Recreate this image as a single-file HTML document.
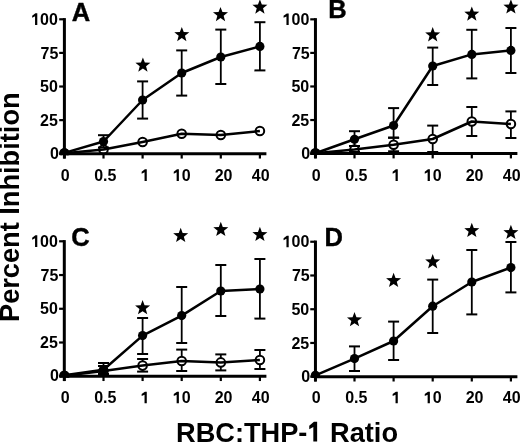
<!DOCTYPE html>
<html><head><meta charset="utf-8"><style>
html,body{margin:0;padding:0;background:#fff;}
svg{display:block;will-change:transform;}
</style></head><body>
<svg width="520" height="442" viewBox="0 0 520 442">
<rect width="520" height="442" fill="#fff"/>
<clipPath id="clipA"><rect x="0" y="0" width="520" height="155.15"/></clipPath>
<line x1="64.4" y1="18.1" x2="64.4" y2="158.55" stroke="#000" stroke-width="3"/>
<line x1="62.900000000000006" y1="153.75" x2="266.4" y2="153.75" stroke="#000" stroke-width="3"/>
<line x1="59.2" y1="19.30" x2="64.4" y2="19.30" stroke="#000" stroke-width="2.2"/>
<text x="31.21" y="24.90" style="font-family:'Liberation Sans',sans-serif;font-weight:bold;font-size:16px"> 00</text>
<polygon points="37.29,24.90 37.29,13.35 35.40,13.35 32.17,15.70 32.17,17.70 35.05,16.34 35.05,24.90"/>
<line x1="59.2" y1="52.91" x2="64.4" y2="52.91" stroke="#000" stroke-width="2.2"/>
<text x="40.51" y="58.51" style="font-family:'Liberation Sans',sans-serif;font-weight:bold;font-size:16px">75</text>
<line x1="59.2" y1="86.52" x2="64.4" y2="86.52" stroke="#000" stroke-width="2.2"/>
<text x="40.01" y="92.12" style="font-family:'Liberation Sans',sans-serif;font-weight:bold;font-size:16px">50</text>
<line x1="59.2" y1="120.14" x2="64.4" y2="120.14" stroke="#000" stroke-width="2.2"/>
<text x="40.01" y="125.74" style="font-family:'Liberation Sans',sans-serif;font-weight:bold;font-size:16px">25</text>
<line x1="59.2" y1="153.75" x2="64.4" y2="153.75" stroke="#000" stroke-width="2.2"/>
<text x="49.90" y="158.65" style="font-family:'Liberation Sans',sans-serif;font-weight:bold;font-size:16px">0</text>
<line x1="64.40" y1="153.75" x2="64.40" y2="158.55" stroke="#000" stroke-width="2.2"/>
<text x="60.80" y="180.90" style="font-family:'Liberation Sans',sans-serif;font-weight:bold;font-size:16px">0</text>
<line x1="103.50" y1="153.75" x2="103.50" y2="158.55" stroke="#000" stroke-width="2.2"/>
<text x="94.23" y="180.90" style="font-family:'Liberation Sans',sans-serif;font-weight:bold;font-size:16px">0.5</text>
<line x1="142.60" y1="153.75" x2="142.60" y2="158.55" stroke="#000" stroke-width="2.2"/>
<polygon points="146.78,180.90 146.78,169.35 144.89,169.35 141.66,171.70 141.66,173.70 144.54,172.34 144.54,180.90"/>
<line x1="181.70" y1="153.75" x2="181.70" y2="158.55" stroke="#000" stroke-width="2.2"/>
<text x="172.80" y="180.90" style="font-family:'Liberation Sans',sans-serif;font-weight:bold;font-size:16px"> 0</text>
<polygon points="178.88,180.90 178.88,169.35 177.00,169.35 173.76,171.70 173.76,173.70 176.64,172.34 176.64,180.90"/>
<line x1="220.80" y1="153.75" x2="220.80" y2="158.55" stroke="#000" stroke-width="2.2"/>
<text x="214.70" y="180.90" style="font-family:'Liberation Sans',sans-serif;font-weight:bold;font-size:16px">20</text>
<line x1="259.90" y1="153.75" x2="259.90" y2="158.55" stroke="#000" stroke-width="2.2"/>
<text x="251.85" y="180.90" style="font-family:'Liberation Sans',sans-serif;font-weight:bold;font-size:16px">40</text>
<text x="71.8" y="21.1" style="font-family:'Liberation Sans',sans-serif;font-weight:bold;font-size:25.5px" stroke="#000" stroke-width="0.4">A</text>
<polyline points="64.40,153.2 103.50,149.5 142.60,142 181.70,133.8 220.80,135 259.90,131" fill="none" stroke="#000" stroke-width="2.5" stroke-linejoin="round"/>
<circle cx="64.40" cy="153.2" r="4.3" fill="none" stroke="#000" stroke-width="2" clip-path="url(#clipA)"/>
<circle cx="103.50" cy="149.5" r="4.3" fill="none" stroke="#000" stroke-width="2" clip-path="url(#clipA)"/>
<circle cx="142.60" cy="142" r="4.3" fill="none" stroke="#000" stroke-width="2" clip-path="url(#clipA)"/>
<circle cx="181.70" cy="133.8" r="4.3" fill="none" stroke="#000" stroke-width="2" clip-path="url(#clipA)"/>
<circle cx="220.80" cy="135" r="4.3" fill="none" stroke="#000" stroke-width="2" clip-path="url(#clipA)"/>
<circle cx="259.90" cy="131" r="4.3" fill="none" stroke="#000" stroke-width="2" clip-path="url(#clipA)"/>
<polyline points="64.40,152.9 103.50,141.5 142.60,100 181.70,73 220.80,57 259.90,46.4" fill="none" stroke="#000" stroke-width="2.5" stroke-linejoin="round"/>
<line x1="103.50" y1="135.2" x2="103.50" y2="147.5" stroke="#000" stroke-width="1.8"/>
<line x1="98.00" y1="135.2" x2="109.00" y2="135.2" stroke="#000" stroke-width="2"/>
<line x1="98.00" y1="147.5" x2="109.00" y2="147.5" stroke="#000" stroke-width="2"/>
<line x1="142.60" y1="81.4" x2="142.60" y2="118.6" stroke="#000" stroke-width="1.8"/>
<line x1="137.10" y1="81.4" x2="148.10" y2="81.4" stroke="#000" stroke-width="2"/>
<line x1="137.10" y1="118.6" x2="148.10" y2="118.6" stroke="#000" stroke-width="2"/>
<line x1="181.70" y1="50.4" x2="181.70" y2="95.6" stroke="#000" stroke-width="1.8"/>
<line x1="176.20" y1="50.4" x2="187.20" y2="50.4" stroke="#000" stroke-width="2"/>
<line x1="176.20" y1="95.6" x2="187.20" y2="95.6" stroke="#000" stroke-width="2"/>
<line x1="220.80" y1="29.6" x2="220.80" y2="84" stroke="#000" stroke-width="1.8"/>
<line x1="215.30" y1="29.6" x2="226.30" y2="29.6" stroke="#000" stroke-width="2"/>
<line x1="215.30" y1="84" x2="226.30" y2="84" stroke="#000" stroke-width="2"/>
<line x1="259.90" y1="22.2" x2="259.90" y2="70.4" stroke="#000" stroke-width="1.8"/>
<line x1="254.40" y1="22.2" x2="265.40" y2="22.2" stroke="#000" stroke-width="2"/>
<line x1="254.40" y1="70.4" x2="265.40" y2="70.4" stroke="#000" stroke-width="2"/>
<circle cx="64.40" cy="152.9" r="4.6" fill="#000" clip-path="url(#clipA)"/>
<circle cx="103.50" cy="141.5" r="4.6" fill="#000" clip-path="url(#clipA)"/>
<circle cx="142.60" cy="100" r="4.6" fill="#000" clip-path="url(#clipA)"/>
<circle cx="181.70" cy="73" r="4.6" fill="#000" clip-path="url(#clipA)"/>
<circle cx="220.80" cy="57" r="4.6" fill="#000" clip-path="url(#clipA)"/>
<circle cx="259.90" cy="46.4" r="4.6" fill="#000" clip-path="url(#clipA)"/>
<polygon points="142.90,57.40 144.85,62.62 150.41,62.86 146.06,66.33 147.54,71.69 142.90,68.62 138.26,71.69 139.74,66.33 135.39,62.86 140.95,62.62"/>
<polygon points="181.80,26.90 183.75,32.12 189.31,32.36 184.96,35.83 186.44,41.19 181.80,38.12 177.16,41.19 178.64,35.83 174.29,32.36 179.85,32.12"/>
<polygon points="220.50,6.90 222.45,12.12 228.01,12.36 223.66,15.83 225.14,21.19 220.50,18.12 215.86,21.19 217.34,15.83 212.99,12.36 218.55,12.12"/>
<polygon points="259.90,-0.60 261.85,4.62 267.41,4.86 263.06,8.33 264.54,13.69 259.90,10.62 255.26,13.69 256.74,8.33 252.39,4.86 257.95,4.62"/>
<clipPath id="clipB"><rect x="0" y="0" width="520" height="155.0"/></clipPath>
<line x1="315.45" y1="18.150000000000002" x2="315.45" y2="158.4" stroke="#000" stroke-width="3"/>
<line x1="313.95" y1="153.6" x2="517.4" y2="153.6" stroke="#000" stroke-width="3"/>
<line x1="310.25" y1="19.35" x2="315.45" y2="19.35" stroke="#000" stroke-width="2.2"/>
<text x="282.61" y="24.95" style="font-family:'Liberation Sans',sans-serif;font-weight:bold;font-size:16px"> 00</text>
<polygon points="288.69,24.95 288.69,13.40 286.80,13.40 283.57,15.75 283.57,17.75 286.45,16.39 286.45,24.95"/>
<line x1="310.25" y1="52.91" x2="315.45" y2="52.91" stroke="#000" stroke-width="2.2"/>
<text x="291.91" y="58.51" style="font-family:'Liberation Sans',sans-serif;font-weight:bold;font-size:16px">75</text>
<line x1="310.25" y1="86.47" x2="315.45" y2="86.47" stroke="#000" stroke-width="2.2"/>
<text x="291.41" y="92.07" style="font-family:'Liberation Sans',sans-serif;font-weight:bold;font-size:16px">50</text>
<line x1="310.25" y1="120.04" x2="315.45" y2="120.04" stroke="#000" stroke-width="2.2"/>
<text x="291.41" y="125.64" style="font-family:'Liberation Sans',sans-serif;font-weight:bold;font-size:16px">25</text>
<line x1="310.25" y1="153.60" x2="315.45" y2="153.60" stroke="#000" stroke-width="2.2"/>
<text x="301.30" y="158.50" style="font-family:'Liberation Sans',sans-serif;font-weight:bold;font-size:16px">0</text>
<line x1="315.40" y1="153.6" x2="315.40" y2="158.4" stroke="#000" stroke-width="2.2"/>
<text x="311.80" y="180.90" style="font-family:'Liberation Sans',sans-serif;font-weight:bold;font-size:16px">0</text>
<line x1="354.50" y1="153.6" x2="354.50" y2="158.4" stroke="#000" stroke-width="2.2"/>
<text x="345.23" y="180.90" style="font-family:'Liberation Sans',sans-serif;font-weight:bold;font-size:16px">0.5</text>
<line x1="393.60" y1="153.6" x2="393.60" y2="158.4" stroke="#000" stroke-width="2.2"/>
<polygon points="397.78,180.90 397.78,169.35 395.89,169.35 392.66,171.70 392.66,173.70 395.54,172.34 395.54,180.90"/>
<line x1="432.70" y1="153.6" x2="432.70" y2="158.4" stroke="#000" stroke-width="2.2"/>
<text x="423.80" y="180.90" style="font-family:'Liberation Sans',sans-serif;font-weight:bold;font-size:16px"> 0</text>
<polygon points="429.88,180.90 429.88,169.35 428.00,169.35 424.76,171.70 424.76,173.70 427.64,172.34 427.64,180.90"/>
<line x1="471.80" y1="153.6" x2="471.80" y2="158.4" stroke="#000" stroke-width="2.2"/>
<text x="465.70" y="180.90" style="font-family:'Liberation Sans',sans-serif;font-weight:bold;font-size:16px">20</text>
<line x1="510.90" y1="153.6" x2="510.90" y2="158.4" stroke="#000" stroke-width="2.2"/>
<text x="502.85" y="180.90" style="font-family:'Liberation Sans',sans-serif;font-weight:bold;font-size:16px">40</text>
<text x="328.3" y="18.2" style="font-family:'Liberation Sans',sans-serif;font-weight:bold;font-size:25.5px" stroke="#000" stroke-width="0.4">B</text>
<polyline points="315.40,153.2 354.50,149.5 393.60,144.8 432.70,139 471.80,121.5 510.90,124" fill="none" stroke="#000" stroke-width="2.5" stroke-linejoin="round"/>
<line x1="349.00" y1="146" x2="360.00" y2="146" stroke="#000" stroke-width="2"/>
<line x1="349.00" y1="152" x2="360.00" y2="152" stroke="#000" stroke-width="2"/>
<line x1="393.60" y1="137.7" x2="393.60" y2="140.80" stroke="#000" stroke-width="1.8"/>
<line x1="393.60" y1="148.80" x2="393.60" y2="151.3" stroke="#000" stroke-width="1.8"/>
<line x1="388.10" y1="137.7" x2="399.10" y2="137.7" stroke="#000" stroke-width="2"/>
<line x1="388.10" y1="151.3" x2="399.10" y2="151.3" stroke="#000" stroke-width="2"/>
<line x1="432.70" y1="125.6" x2="432.70" y2="135.00" stroke="#000" stroke-width="1.8"/>
<line x1="432.70" y1="143.00" x2="432.70" y2="152" stroke="#000" stroke-width="1.8"/>
<line x1="427.20" y1="125.6" x2="438.20" y2="125.6" stroke="#000" stroke-width="2"/>
<line x1="427.20" y1="152" x2="438.20" y2="152" stroke="#000" stroke-width="2"/>
<line x1="471.80" y1="107" x2="471.80" y2="117.50" stroke="#000" stroke-width="1.8"/>
<line x1="471.80" y1="125.50" x2="471.80" y2="136" stroke="#000" stroke-width="1.8"/>
<line x1="466.30" y1="107" x2="477.30" y2="107" stroke="#000" stroke-width="2"/>
<line x1="466.30" y1="136" x2="477.30" y2="136" stroke="#000" stroke-width="2"/>
<line x1="510.90" y1="111.4" x2="510.90" y2="120.00" stroke="#000" stroke-width="1.8"/>
<line x1="510.90" y1="128.00" x2="510.90" y2="138" stroke="#000" stroke-width="1.8"/>
<line x1="505.40" y1="111.4" x2="516.40" y2="111.4" stroke="#000" stroke-width="2"/>
<line x1="505.40" y1="138" x2="516.40" y2="138" stroke="#000" stroke-width="2"/>
<circle cx="315.40" cy="153.2" r="4.3" fill="none" stroke="#000" stroke-width="2" clip-path="url(#clipB)"/>
<circle cx="354.50" cy="149.5" r="4.3" fill="none" stroke="#000" stroke-width="2" clip-path="url(#clipB)"/>
<circle cx="393.60" cy="144.8" r="4.3" fill="none" stroke="#000" stroke-width="2" clip-path="url(#clipB)"/>
<circle cx="432.70" cy="139" r="4.3" fill="none" stroke="#000" stroke-width="2" clip-path="url(#clipB)"/>
<circle cx="471.80" cy="121.5" r="4.3" fill="none" stroke="#000" stroke-width="2" clip-path="url(#clipB)"/>
<circle cx="510.90" cy="124" r="4.3" fill="none" stroke="#000" stroke-width="2" clip-path="url(#clipB)"/>
<polyline points="315.40,153.2 354.50,139.3 393.60,125.5 432.70,66 471.80,54.4 510.90,50.4" fill="none" stroke="#000" stroke-width="2.5" stroke-linejoin="round"/>
<line x1="354.50" y1="131.2" x2="354.50" y2="146" stroke="#000" stroke-width="1.8"/>
<line x1="349.00" y1="131.2" x2="360.00" y2="131.2" stroke="#000" stroke-width="2"/>
<line x1="349.00" y1="146" x2="360.00" y2="146" stroke="#000" stroke-width="2"/>
<line x1="393.60" y1="108.1" x2="393.60" y2="137.7" stroke="#000" stroke-width="1.8"/>
<line x1="388.10" y1="108.1" x2="399.10" y2="108.1" stroke="#000" stroke-width="2"/>
<line x1="388.10" y1="137.7" x2="399.10" y2="137.7" stroke="#000" stroke-width="2"/>
<line x1="432.70" y1="47.6" x2="432.70" y2="85" stroke="#000" stroke-width="1.8"/>
<line x1="427.20" y1="47.6" x2="438.20" y2="47.6" stroke="#000" stroke-width="2"/>
<line x1="427.20" y1="85" x2="438.20" y2="85" stroke="#000" stroke-width="2"/>
<line x1="471.80" y1="29.8" x2="471.80" y2="78.4" stroke="#000" stroke-width="1.8"/>
<line x1="466.30" y1="29.8" x2="477.30" y2="29.8" stroke="#000" stroke-width="2"/>
<line x1="466.30" y1="78.4" x2="477.30" y2="78.4" stroke="#000" stroke-width="2"/>
<line x1="510.90" y1="28" x2="510.90" y2="73" stroke="#000" stroke-width="1.8"/>
<line x1="505.40" y1="28" x2="516.40" y2="28" stroke="#000" stroke-width="2"/>
<line x1="505.40" y1="73" x2="516.40" y2="73" stroke="#000" stroke-width="2"/>
<circle cx="315.40" cy="153.2" r="4.6" fill="#000" clip-path="url(#clipB)"/>
<circle cx="354.50" cy="139.3" r="4.6" fill="#000" clip-path="url(#clipB)"/>
<circle cx="393.60" cy="125.5" r="4.6" fill="#000" clip-path="url(#clipB)"/>
<circle cx="432.70" cy="66" r="4.6" fill="#000" clip-path="url(#clipB)"/>
<circle cx="471.80" cy="54.4" r="4.6" fill="#000" clip-path="url(#clipB)"/>
<circle cx="510.90" cy="50.4" r="4.6" fill="#000" clip-path="url(#clipB)"/>
<polygon points="432.70,27.10 434.65,32.32 440.21,32.56 435.86,36.03 437.34,41.39 432.70,38.32 428.06,41.39 429.54,36.03 425.19,32.56 430.75,32.32"/>
<polygon points="471.80,6.40 473.75,11.62 479.31,11.86 474.96,15.33 476.44,20.69 471.80,17.62 467.16,20.69 468.64,15.33 464.29,11.86 469.85,11.62"/>
<polygon points="510.90,-0.70 512.85,4.52 518.41,4.76 514.06,8.23 515.54,13.59 510.90,10.52 506.26,13.59 507.74,8.23 503.39,4.76 508.95,4.52"/>
<clipPath id="clipC"><rect x="0" y="0" width="520" height="377.65"/></clipPath>
<line x1="64.3" y1="240.10000000000002" x2="64.3" y2="381.05" stroke="#000" stroke-width="3"/>
<line x1="62.8" y1="376.25" x2="266.4" y2="376.25" stroke="#000" stroke-width="3"/>
<line x1="59.099999999999994" y1="241.30" x2="64.3" y2="241.30" stroke="#000" stroke-width="2.2"/>
<text x="31.21" y="246.90" style="font-family:'Liberation Sans',sans-serif;font-weight:bold;font-size:16px"> 00</text>
<polygon points="37.29,246.90 37.29,235.35 35.40,235.35 32.17,237.70 32.17,239.70 35.05,238.34 35.05,246.90"/>
<line x1="59.099999999999994" y1="275.04" x2="64.3" y2="275.04" stroke="#000" stroke-width="2.2"/>
<text x="40.51" y="280.64" style="font-family:'Liberation Sans',sans-serif;font-weight:bold;font-size:16px">75</text>
<line x1="59.099999999999994" y1="308.77" x2="64.3" y2="308.77" stroke="#000" stroke-width="2.2"/>
<text x="40.01" y="314.38" style="font-family:'Liberation Sans',sans-serif;font-weight:bold;font-size:16px">50</text>
<line x1="59.099999999999994" y1="342.51" x2="64.3" y2="342.51" stroke="#000" stroke-width="2.2"/>
<text x="40.01" y="348.11" style="font-family:'Liberation Sans',sans-serif;font-weight:bold;font-size:16px">25</text>
<line x1="59.099999999999994" y1="376.25" x2="64.3" y2="376.25" stroke="#000" stroke-width="2.2"/>
<text x="49.90" y="381.15" style="font-family:'Liberation Sans',sans-serif;font-weight:bold;font-size:16px">0</text>
<line x1="64.40" y1="376.25" x2="64.40" y2="381.05" stroke="#000" stroke-width="2.2"/>
<text x="60.80" y="403.20" style="font-family:'Liberation Sans',sans-serif;font-weight:bold;font-size:16px">0</text>
<line x1="103.50" y1="376.25" x2="103.50" y2="381.05" stroke="#000" stroke-width="2.2"/>
<text x="94.23" y="403.20" style="font-family:'Liberation Sans',sans-serif;font-weight:bold;font-size:16px">0.5</text>
<line x1="142.60" y1="376.25" x2="142.60" y2="381.05" stroke="#000" stroke-width="2.2"/>
<polygon points="146.78,403.20 146.78,391.65 144.89,391.65 141.66,394.00 141.66,396.00 144.54,394.64 144.54,403.20"/>
<line x1="181.70" y1="376.25" x2="181.70" y2="381.05" stroke="#000" stroke-width="2.2"/>
<text x="172.80" y="403.20" style="font-family:'Liberation Sans',sans-serif;font-weight:bold;font-size:16px"> 0</text>
<polygon points="178.88,403.20 178.88,391.65 177.00,391.65 173.76,394.00 173.76,396.00 176.64,394.64 176.64,403.20"/>
<line x1="220.80" y1="376.25" x2="220.80" y2="381.05" stroke="#000" stroke-width="2.2"/>
<text x="214.70" y="403.20" style="font-family:'Liberation Sans',sans-serif;font-weight:bold;font-size:16px">20</text>
<line x1="259.90" y1="376.25" x2="259.90" y2="381.05" stroke="#000" stroke-width="2.2"/>
<text x="251.85" y="403.20" style="font-family:'Liberation Sans',sans-serif;font-weight:bold;font-size:16px">40</text>
<text x="71.3" y="245.7" style="font-family:'Liberation Sans',sans-serif;font-weight:bold;font-size:25.5px" stroke="#000" stroke-width="0.4">C</text>
<polyline points="64.40,375.8 103.50,371 142.60,365.6 181.70,361 220.80,362.4 259.90,360" fill="none" stroke="#000" stroke-width="2.5" stroke-linejoin="round"/>
<line x1="103.50" y1="366" x2="103.50" y2="367.00" stroke="#000" stroke-width="1.8"/>
<line x1="103.50" y1="375.00" x2="103.50" y2="376" stroke="#000" stroke-width="1.8"/>
<line x1="98.00" y1="366" x2="109.00" y2="366" stroke="#000" stroke-width="2"/>
<line x1="98.00" y1="376" x2="109.00" y2="376" stroke="#000" stroke-width="2"/>
<line x1="142.60" y1="359" x2="142.60" y2="361.60" stroke="#000" stroke-width="1.8"/>
<line x1="142.60" y1="369.60" x2="142.60" y2="371.6" stroke="#000" stroke-width="1.8"/>
<line x1="137.10" y1="359" x2="148.10" y2="359" stroke="#000" stroke-width="2"/>
<line x1="137.10" y1="371.6" x2="148.10" y2="371.6" stroke="#000" stroke-width="2"/>
<line x1="181.70" y1="349.6" x2="181.70" y2="357.00" stroke="#000" stroke-width="1.8"/>
<line x1="181.70" y1="365.00" x2="181.70" y2="371" stroke="#000" stroke-width="1.8"/>
<line x1="176.20" y1="349.6" x2="187.20" y2="349.6" stroke="#000" stroke-width="2"/>
<line x1="176.20" y1="371" x2="187.20" y2="371" stroke="#000" stroke-width="2"/>
<line x1="220.80" y1="354.4" x2="220.80" y2="358.40" stroke="#000" stroke-width="1.8"/>
<line x1="220.80" y1="366.40" x2="220.80" y2="370.4" stroke="#000" stroke-width="1.8"/>
<line x1="215.30" y1="354.4" x2="226.30" y2="354.4" stroke="#000" stroke-width="2"/>
<line x1="215.30" y1="370.4" x2="226.30" y2="370.4" stroke="#000" stroke-width="2"/>
<line x1="259.90" y1="350" x2="259.90" y2="356.00" stroke="#000" stroke-width="1.8"/>
<line x1="259.90" y1="364.00" x2="259.90" y2="369" stroke="#000" stroke-width="1.8"/>
<line x1="254.40" y1="350" x2="265.40" y2="350" stroke="#000" stroke-width="2"/>
<line x1="254.40" y1="369" x2="265.40" y2="369" stroke="#000" stroke-width="2"/>
<circle cx="64.40" cy="375.8" r="4.3" fill="none" stroke="#000" stroke-width="2" clip-path="url(#clipC)"/>
<circle cx="103.50" cy="371" r="4.3" fill="none" stroke="#000" stroke-width="2" clip-path="url(#clipC)"/>
<circle cx="142.60" cy="365.6" r="4.3" fill="none" stroke="#000" stroke-width="2" clip-path="url(#clipC)"/>
<circle cx="181.70" cy="361" r="4.3" fill="none" stroke="#000" stroke-width="2" clip-path="url(#clipC)"/>
<circle cx="220.80" cy="362.4" r="4.3" fill="none" stroke="#000" stroke-width="2" clip-path="url(#clipC)"/>
<circle cx="259.90" cy="360" r="4.3" fill="none" stroke="#000" stroke-width="2" clip-path="url(#clipC)"/>
<polyline points="64.40,375.3 103.50,369.8 142.60,335.6 181.70,315.6 220.80,291 259.90,289" fill="none" stroke="#000" stroke-width="2.5" stroke-linejoin="round"/>
<line x1="103.50" y1="363" x2="103.50" y2="374" stroke="#000" stroke-width="1.8"/>
<line x1="98.00" y1="363" x2="109.00" y2="363" stroke="#000" stroke-width="2"/>
<line x1="98.00" y1="374" x2="109.00" y2="374" stroke="#000" stroke-width="2"/>
<line x1="142.60" y1="318" x2="142.60" y2="354" stroke="#000" stroke-width="1.8"/>
<line x1="137.10" y1="318" x2="148.10" y2="318" stroke="#000" stroke-width="2"/>
<line x1="137.10" y1="354" x2="148.10" y2="354" stroke="#000" stroke-width="2"/>
<line x1="181.70" y1="287" x2="181.70" y2="343" stroke="#000" stroke-width="1.8"/>
<line x1="176.20" y1="287" x2="187.20" y2="287" stroke="#000" stroke-width="2"/>
<line x1="176.20" y1="343" x2="187.20" y2="343" stroke="#000" stroke-width="2"/>
<line x1="220.80" y1="265" x2="220.80" y2="316" stroke="#000" stroke-width="1.8"/>
<line x1="215.30" y1="265" x2="226.30" y2="265" stroke="#000" stroke-width="2"/>
<line x1="215.30" y1="316" x2="226.30" y2="316" stroke="#000" stroke-width="2"/>
<line x1="259.90" y1="259" x2="259.90" y2="318.6" stroke="#000" stroke-width="1.8"/>
<line x1="254.40" y1="259" x2="265.40" y2="259" stroke="#000" stroke-width="2"/>
<line x1="254.40" y1="318.6" x2="265.40" y2="318.6" stroke="#000" stroke-width="2"/>
<circle cx="64.40" cy="375.3" r="4.6" fill="#000" clip-path="url(#clipC)"/>
<circle cx="103.50" cy="369.8" r="4.6" fill="#000" clip-path="url(#clipC)"/>
<circle cx="142.60" cy="335.6" r="4.6" fill="#000" clip-path="url(#clipC)"/>
<circle cx="181.70" cy="315.6" r="4.6" fill="#000" clip-path="url(#clipC)"/>
<circle cx="220.80" cy="291" r="4.6" fill="#000" clip-path="url(#clipC)"/>
<circle cx="259.90" cy="289" r="4.6" fill="#000" clip-path="url(#clipC)"/>
<polygon points="142.60,300.00 144.55,305.22 150.11,305.46 145.76,308.93 147.24,314.29 142.60,311.22 137.96,314.29 139.44,308.93 135.09,305.46 140.65,305.22"/>
<polygon points="180.70,227.70 182.65,232.92 188.21,233.16 183.86,236.63 185.34,241.99 180.70,238.92 176.06,241.99 177.54,236.63 173.19,233.16 178.75,232.92"/>
<polygon points="220.80,221.70 222.75,226.92 228.31,227.16 223.96,230.63 225.44,235.99 220.80,232.92 216.16,235.99 217.64,230.63 213.29,227.16 218.85,226.92"/>
<polygon points="259.90,226.70 261.85,231.92 267.41,232.16 263.06,235.63 264.54,240.99 259.90,237.92 255.26,240.99 256.74,235.63 252.39,232.16 257.95,231.92"/>
<clipPath id="clipD"><rect x="0" y="0" width="520" height="378.09999999999997"/></clipPath>
<line x1="315.45" y1="240.55" x2="315.45" y2="381.5" stroke="#000" stroke-width="3"/>
<line x1="313.95" y1="376.7" x2="517.4" y2="376.7" stroke="#000" stroke-width="3"/>
<line x1="310.25" y1="241.75" x2="315.45" y2="241.75" stroke="#000" stroke-width="2.2"/>
<text x="282.61" y="247.35" style="font-family:'Liberation Sans',sans-serif;font-weight:bold;font-size:16px"> 00</text>
<polygon points="288.69,247.35 288.69,235.80 286.80,235.80 283.57,238.15 283.57,240.15 286.45,238.79 286.45,247.35"/>
<line x1="310.25" y1="275.49" x2="315.45" y2="275.49" stroke="#000" stroke-width="2.2"/>
<text x="291.91" y="281.09" style="font-family:'Liberation Sans',sans-serif;font-weight:bold;font-size:16px">75</text>
<line x1="310.25" y1="309.23" x2="315.45" y2="309.23" stroke="#000" stroke-width="2.2"/>
<text x="291.41" y="314.83" style="font-family:'Liberation Sans',sans-serif;font-weight:bold;font-size:16px">50</text>
<line x1="310.25" y1="342.96" x2="315.45" y2="342.96" stroke="#000" stroke-width="2.2"/>
<text x="291.41" y="348.56" style="font-family:'Liberation Sans',sans-serif;font-weight:bold;font-size:16px">25</text>
<line x1="310.25" y1="376.70" x2="315.45" y2="376.70" stroke="#000" stroke-width="2.2"/>
<text x="301.30" y="381.60" style="font-family:'Liberation Sans',sans-serif;font-weight:bold;font-size:16px">0</text>
<line x1="315.40" y1="376.7" x2="315.40" y2="381.5" stroke="#000" stroke-width="2.2"/>
<text x="311.80" y="403.20" style="font-family:'Liberation Sans',sans-serif;font-weight:bold;font-size:16px">0</text>
<line x1="354.50" y1="376.7" x2="354.50" y2="381.5" stroke="#000" stroke-width="2.2"/>
<text x="345.23" y="403.20" style="font-family:'Liberation Sans',sans-serif;font-weight:bold;font-size:16px">0.5</text>
<line x1="393.60" y1="376.7" x2="393.60" y2="381.5" stroke="#000" stroke-width="2.2"/>
<polygon points="397.78,403.20 397.78,391.65 395.89,391.65 392.66,394.00 392.66,396.00 395.54,394.64 395.54,403.20"/>
<line x1="432.70" y1="376.7" x2="432.70" y2="381.5" stroke="#000" stroke-width="2.2"/>
<text x="423.80" y="403.20" style="font-family:'Liberation Sans',sans-serif;font-weight:bold;font-size:16px"> 0</text>
<polygon points="429.88,403.20 429.88,391.65 428.00,391.65 424.76,394.00 424.76,396.00 427.64,394.64 427.64,403.20"/>
<line x1="471.80" y1="376.7" x2="471.80" y2="381.5" stroke="#000" stroke-width="2.2"/>
<text x="465.70" y="403.20" style="font-family:'Liberation Sans',sans-serif;font-weight:bold;font-size:16px">20</text>
<line x1="510.90" y1="376.7" x2="510.90" y2="381.5" stroke="#000" stroke-width="2.2"/>
<text x="502.85" y="403.20" style="font-family:'Liberation Sans',sans-serif;font-weight:bold;font-size:16px">40</text>
<text x="324.6" y="246.0" style="font-family:'Liberation Sans',sans-serif;font-weight:bold;font-size:25.5px" stroke="#000" stroke-width="0.4">D</text>
<polyline points="315.40,375.3 354.50,358.6 393.60,341 432.70,306.2 471.80,282 510.90,267.6" fill="none" stroke="#000" stroke-width="2.5" stroke-linejoin="round"/>
<line x1="354.50" y1="346.4" x2="354.50" y2="371" stroke="#000" stroke-width="1.8"/>
<line x1="349.00" y1="346.4" x2="360.00" y2="346.4" stroke="#000" stroke-width="2"/>
<line x1="349.00" y1="371" x2="360.00" y2="371" stroke="#000" stroke-width="2"/>
<line x1="393.60" y1="321.6" x2="393.60" y2="360" stroke="#000" stroke-width="1.8"/>
<line x1="388.10" y1="321.6" x2="399.10" y2="321.6" stroke="#000" stroke-width="2"/>
<line x1="388.10" y1="360" x2="399.10" y2="360" stroke="#000" stroke-width="2"/>
<line x1="432.70" y1="279.6" x2="432.70" y2="333" stroke="#000" stroke-width="1.8"/>
<line x1="427.20" y1="279.6" x2="438.20" y2="279.6" stroke="#000" stroke-width="2"/>
<line x1="427.20" y1="333" x2="438.20" y2="333" stroke="#000" stroke-width="2"/>
<line x1="471.80" y1="250" x2="471.80" y2="314.4" stroke="#000" stroke-width="1.8"/>
<line x1="466.30" y1="250" x2="477.30" y2="250" stroke="#000" stroke-width="2"/>
<line x1="466.30" y1="314.4" x2="477.30" y2="314.4" stroke="#000" stroke-width="2"/>
<line x1="510.90" y1="242" x2="510.90" y2="292.4" stroke="#000" stroke-width="1.8"/>
<line x1="505.40" y1="242" x2="516.40" y2="242" stroke="#000" stroke-width="2"/>
<line x1="505.40" y1="292.4" x2="516.40" y2="292.4" stroke="#000" stroke-width="2"/>
<circle cx="315.40" cy="375.3" r="4.6" fill="#000" clip-path="url(#clipD)"/>
<circle cx="354.50" cy="358.6" r="4.6" fill="#000" clip-path="url(#clipD)"/>
<circle cx="393.60" cy="341" r="4.6" fill="#000" clip-path="url(#clipD)"/>
<circle cx="432.70" cy="306.2" r="4.6" fill="#000" clip-path="url(#clipD)"/>
<circle cx="471.80" cy="282" r="4.6" fill="#000" clip-path="url(#clipD)"/>
<circle cx="510.90" cy="267.6" r="4.6" fill="#000" clip-path="url(#clipD)"/>
<polygon points="354.50,312.00 356.45,317.22 362.01,317.46 357.66,320.93 359.14,326.29 354.50,323.22 349.86,326.29 351.34,320.93 346.99,317.46 352.55,317.22"/>
<polygon points="393.60,272.80 395.55,278.02 401.11,278.26 396.76,281.73 398.24,287.09 393.60,284.02 388.96,287.09 390.44,281.73 386.09,278.26 391.65,278.02"/>
<polygon points="432.70,254.10 434.65,259.32 440.21,259.56 435.86,263.03 437.34,268.39 432.70,265.32 428.06,268.39 429.54,263.03 425.19,259.56 430.75,259.32"/>
<polygon points="471.80,222.70 473.75,227.92 479.31,228.16 474.96,231.63 476.44,236.99 471.80,233.92 467.16,236.99 468.64,231.63 464.29,228.16 469.85,227.92"/>
<polygon points="510.90,224.70 512.85,229.92 518.41,230.16 514.06,233.63 515.54,238.99 510.90,235.92 506.26,238.99 507.74,233.63 503.39,230.16 508.95,229.92"/>
<text x="176" y="441.5" style="font-family:'Liberation Sans',sans-serif;font-weight:bold;font-size:27.2px">RBC:THP-  Ratio</text>
<polygon points="317.14,441.50 317.14,421.86 313.93,421.86 309.25,425.86 309.25,429.26 313.33,426.95 313.33,441.50"/>
<text transform="translate(19,322) rotate(-90)" x="0" y="0" style="font-family:'Liberation Sans',sans-serif;font-weight:bold;font-size:27.2px">Percent Inhibition</text>
</svg>
</body></html>
